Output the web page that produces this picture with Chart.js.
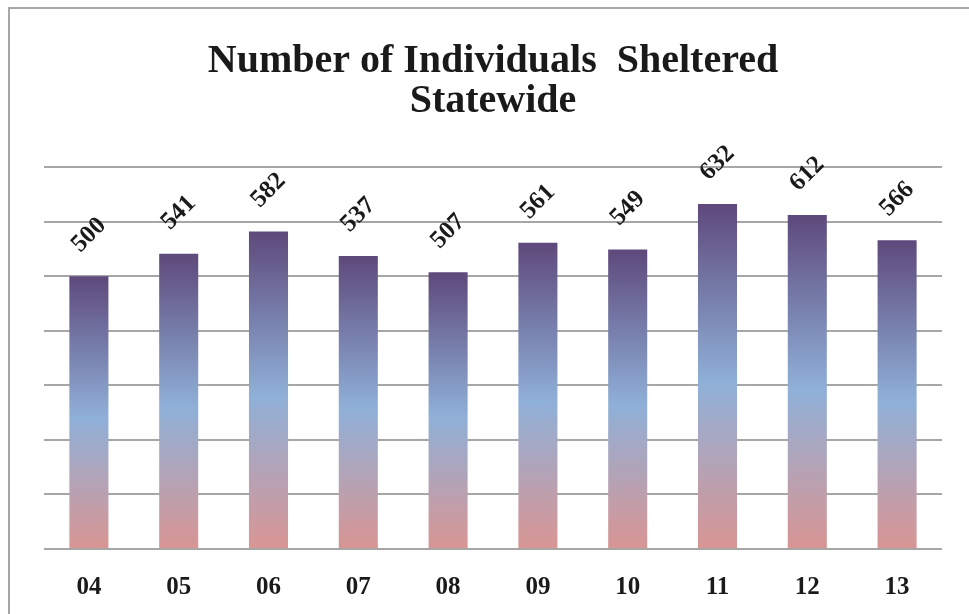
<!DOCTYPE html>
<html>
<head>
<meta charset="utf-8">
<script src="https://cdn.jsdelivr.net/npm/chart.js@4"></script>
<style>
  html, body { margin: 0; padding: 0; background: #fff; }
  #wrap { width: 969px; height: 614px; position: relative; }
</style>
</head>
<body>
<div id="wrap"><canvas id="chart" width="969" height="614"></canvas></div>
<script>
const years = ['04', '05', '06', '07', '08', '09', '10', '11', '12', '13'];
const sheltered = [500, 541, 582, 537, 507, 561, 549, 632, 612, 566];
const chartTitle = ['Number of Individuals  Sheltered', 'Statewide'];

const serif = '"Liberation Serif", "Times New Roman", serif';

// grey frame on the top and left edges
const framePlugin = {
  id: 'frame',
  beforeDraw(chart) {
    const ctx = chart.ctx;
    ctx.save();
    ctx.strokeStyle = '#a6a6a6';
    ctx.lineWidth = 2;
    ctx.beginPath();
    ctx.moveTo(9, chart.height);
    ctx.lineTo(9, 8);
    ctx.lineTo(chart.width, 8);
    ctx.stroke();
    ctx.restore();
  }
};

// rotated value labels above each bar
const valueLabels = {
  id: 'valueLabels',
  afterDatasetsDraw(chart) {
    const ctx = chart.ctx;
    const meta = chart.getDatasetMeta(0);
    ctx.save();
    ctx.font = 'bold 25px ' + serif;
    ctx.fillStyle = '#1a1a1a';
    ctx.textAlign = 'center';
    ctx.textBaseline = 'middle';
    meta.data.forEach((bar, i) => {
      ctx.save();
      ctx.translate(bar.x, bar.y - 41);
      ctx.rotate(-Math.PI / 4);
      ctx.fillText(String(sheltered[i]), 0, 0);
      ctx.restore();
    });
    ctx.restore();
  }
};

function barGradient(context) {
  const chart = context.chart;
  if (!chart.chartArea) return '#7a8fc0';
  const y = chart.scales.y;
  const top = y.getPixelForValue(context.raw);
  const bottom = y.getPixelForValue(0);
  const g = chart.ctx.createLinearGradient(0, top, 0, bottom);
  g.addColorStop(0, '#5e497b');
  g.addColorStop(0.52, '#8fb0d8');
  g.addColorStop(1, '#d99593');
  return g;
}

new Chart(document.getElementById('chart'), {
  type: 'bar',
  data: {
    labels: years,
    datasets: [{
      data: sheltered,
      backgroundColor: barGradient,
      borderWidth: 0,
      barPercentage: 0.435,
      categoryPercentage: 1
    }]
  },
  options: {
    responsive: false,
    animation: false,
    layout: { padding: { left: 44, right: 27, top: 0, bottom: -5 } },
    plugins: {
      legend: { display: false },
      tooltip: { enabled: false },
      title: {
        display: true,
        text: chartTitle,
        color: '#1a1a1a',
        font: { family: serif, size: 40, weight: 'bold', lineHeight: 1 },
        padding: { top: 42, bottom: 45 }
      }
    },
    scales: {
      x: {
        grid: { display: false },
        border: { display: false },
        ticks: {
          color: '#1a1a1a',
          font: { family: serif, size: 25, weight: 'bold' },
          padding: 16,
          maxRotation: 0
        }
      },
      y: {
        min: 0,
        max: 700,
        ticks: { display: false, stepSize: 100 },
        border: { display: false },
        grid: { color: '#a6a6a6', lineWidth: 2, drawTicks: false }
      }
    }
  },
  plugins: [framePlugin, valueLabels]
});
</script>
</body>
</html>
